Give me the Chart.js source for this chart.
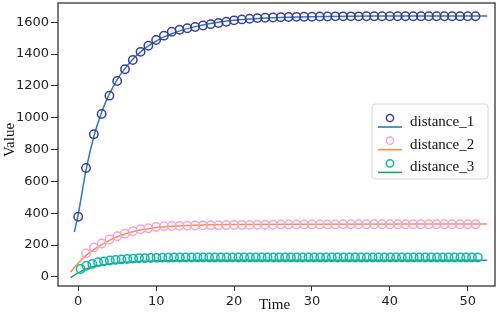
<!DOCTYPE html>
<html>
<head>
<meta charset="utf-8">
<script src="https://cdn.jsdelivr.net/npm/chart.js@4/dist/chart.umd.min.js"></script>
<style>
  html, body { margin: 0; padding: 0; background: #fff; }
  #wrap { width: 498px; height: 318px; }
</style>
</head>
<body>
<div id="wrap"><canvas id="chart"></canvas></div>
<script>
// tick labels
const xTicks = [0, 10, 20, 30, 40, 50];
const yTicks = [0, 200, 400, 600, 800, 1000, 1200, 1400, 1600];

// measured points (hollow circles)
const d1Time = Array.from({ length: 52 }, (_, i) => i);
const d1Vals = [378, 684, 897, 1024, 1139, 1231, 1305, 1363, 1414, 1452, 1489, 1516, 1540, 1553, 1562, 1570, 1580, 1588, 1595, 1603, 1612, 1618, 1622, 1626, 1628, 1630, 1632, 1633, 1634, 1635, 1635, 1636, 1636, 1637, 1637, 1637, 1637, 1638, 1638, 1638, 1638, 1638, 1638, 1638, 1638, 1638, 1638, 1638, 1638, 1638, 1638, 1638];

const d2Time = Array.from({ length: 51 }, (_, i) => i + 1);
const d2Vals = [147, 185, 210, 235, 256, 272, 287, 300, 306, 314, 318, 320, 321, 322, 323, 324, 325, 325, 326, 326, 327, 327, 328, 328, 328, 329, 329, 329, 330, 330, 330, 330, 330, 331, 331, 331, 331, 331, 331, 331, 331, 331, 331, 331, 331, 331, 331, 331, 331, 331, 331];

const d3Time = Array.from({ length: 69 }, (_, i) => 0.3 + i * 0.75);
const d3Vals = [50, 70, 82, 92, 98, 103, 107, 110, 113, 115, 117, 118, 119, 120, 121, 121, 122, 122, 122, 122, 122, 122, 122, 122, 122, 122, 122, 122, 122, 122, 122, 122, 122, 122, 122, 122, 122, 122, 122, 122, 122, 122, 122, 122, 122, 122, 122, 122, 122, 122, 122, 122, 122, 122, 122, 122, 122, 122, 122, 122, 122, 122, 122, 122, 122, 122, 122, 122, 122];

// fitted curves
const fit1Time = [-0.5, 0, 1, 2, 3, 4, 5, 6, 7, 8, 9, 10, 11, 12, 14, 16, 18, 20, 25, 30, 40, 52.5];
const fit1Vals = [282, 395, 672, 882, 1035, 1150, 1240, 1310, 1368, 1414, 1452, 1482, 1508, 1528, 1560, 1583, 1600, 1612, 1628, 1635, 1639, 1640];

const fit2Time = [-1, 0, 1, 2, 3, 4, 5, 6, 7, 8, 9, 10, 12, 15, 20, 30, 52.5];
const fit2Vals = [30, 88, 135, 172, 203, 230, 252, 270, 284, 295, 303, 310, 318, 325, 329, 331, 333];

const fit3Time = [-1, 0, 1, 2, 3, 4, 5, 6, 8, 10, 12, 15, 20, 30, 52.5];
const fit3Vals = [-5, 25, 50, 65, 75, 82, 88, 92, 98, 101, 103, 104, 105, 105, 105];

const seriesNames = ['distance_1', 'distance_2', 'distance_3'];
const markerColors = ['#3d3d9e', '#f3a3d9', '#10b5aa'];
const lineColors = ['#2a7ab8', '#f8913f', '#1aa66a'];

const pts = (t, v) => t.map((x, i) => ({ x: x, y: v[i] }));

const serif = '"Liberation Serif", "Times New Roman", serif';

// frame + axis titles + legend drawn on the canvas
const decor = {
    id: 'decor',
    afterDraw(chart) {
        const { ctx, chartArea: a } = chart;
        ctx.save();
        ctx.strokeStyle = '#333';
        ctx.lineWidth = 1.3;
        ctx.strokeRect(a.left, a.top, a.right - a.left, a.bottom - a.top);

        ctx.fillStyle = '#111';
        ctx.font = '15px ' + serif;
        ctx.textAlign = 'center';
        ctx.textBaseline = 'middle';
        ctx.fillText('Time', (a.left + a.right) / 2 - 2, 305);
        ctx.translate(10, 140);
        ctx.rotate(-Math.PI / 2);
        ctx.fillText('Value', 0, 0);
        ctx.restore();

        // legend box
        ctx.save();
        const bx = a.right - 123, by = a.top + 101, bw = 116, bh = 75;
        ctx.beginPath();
        ctx.roundRect(bx, by, bw, bh, 3);
        ctx.fillStyle = 'rgba(255,255,255,0.85)';
        ctx.fill();
        ctx.strokeStyle = '#d6d6d6';
        ctx.lineWidth = 1;
        ctx.stroke();
        ctx.font = '15px ' + serif;
        ctx.textAlign = 'left';
        ctx.textBaseline = 'middle';
        seriesNames.forEach((name, i) => {
            const y0 = by + 14 + i * 22.7;
            ctx.strokeStyle = lineColors[i];
            ctx.lineWidth = 1.6;
            ctx.beginPath();
            ctx.moveTo(bx + 6, y0 + 9);
            ctx.lineTo(bx + 30, y0 + 9);
            ctx.stroke();
            ctx.strokeStyle = markerColors[i];
            ctx.lineWidth = 1.5;
            ctx.beginPath();
            ctx.arc(bx + 18, y0, 3.6, 0, Math.PI * 2);
            ctx.stroke();
            ctx.fillStyle = '#111';
            ctx.fillText(name, bx + 38, y0 + 4);
        });
        ctx.restore();
    }
};

const lineDs = (label, t, v, color) => ({
    label: label,
    data: pts(t, v),
    showLine: true,
    borderColor: color,
    borderWidth: 1.5,
    pointRadius: 0,
    fill: false,
    cubicInterpolationMode: 'monotone',
    order: 2
});

const dotDs = (label, t, v, color) => ({
    label: label,
    data: pts(t, v),
    showLine: false,
    pointStyle: 'circle',
    pointRadius: 4.2,
    pointBorderWidth: 1.5,
    pointBorderColor: color,
    pointBackgroundColor: 'rgba(0,0,0,0)',
    order: 1
});

const ctx = document.getElementById('chart').getContext('2d');
const chart = new Chart(ctx, {
    type: 'scatter',
    data: {
        datasets: [
            lineDs('fit_1', fit1Time, fit1Vals, lineColors[0]),
            lineDs('fit_2', fit2Time, fit2Vals, lineColors[1]),
            lineDs('fit_3', fit3Time, fit3Vals, lineColors[2]),
            dotDs(seriesNames[0], d1Time, d1Vals, markerColors[0]),
            dotDs(seriesNames[1], d2Time, d2Vals, markerColors[1]),
            dotDs(seriesNames[2], d3Time, d3Vals, markerColors[2])
        ]
    },
    options: {
        responsive: true,
        maintainAspectRatio: false,
        animation: false,
        layout: { autoPadding: false, padding: { top: 3, right: 3, left: 0, bottom: 0 } },
        plugins: {
            legend: { display: false },
            tooltip: { enabled: false }
        },
        scales: {
            x: {
                type: 'linear',
                min: -2.6,
                max: 53.5,
                afterBuildTicks: (s) => { s.ticks = xTicks.map(v => ({ value: v })); },
                afterFit: (s) => { s.height = 32; s.paddingLeft = 0; s.paddingRight = 0; },
                grid: { drawOnChartArea: false, color: '#333', tickLength: 5 },
                border: { display: false },
                ticks: {
                    color: '#222',
                    padding: 3,
                    callback: (v) => String(v),
                    font: { family: '"DejaVu Sans", sans-serif', size: 13 }
                }
            },
            y: {
                min: -57,
                max: 1721,
                afterBuildTicks: (s) => { s.ticks = yTicks.map(v => ({ value: v })); },
                afterFit: (s) => { s.width = 58; s.paddingTop = 0; s.paddingBottom = 0; },
                grid: { drawOnChartArea: false, color: '#333', tickLength: 7 },
                border: { display: false },
                ticks: {
                    color: '#222',
                    padding: 2,
                    callback: (v) => String(v),
                    font: { family: '"DejaVu Sans", sans-serif', size: 13 }
                }
            }
        }
    },
    plugins: [decor]
});
</script>
</body>
</html>
